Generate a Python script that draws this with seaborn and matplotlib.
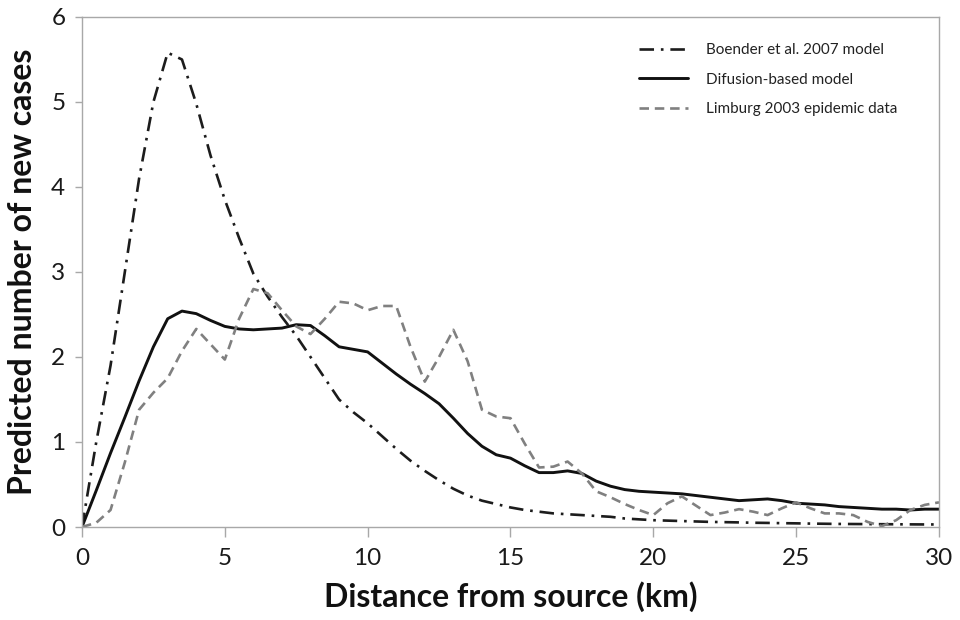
import numpy as np
import pandas as pd
import matplotlib
matplotlib.use("Agg")
import matplotlib.pyplot as plt
import seaborn as sns

# ---- data ----
distance_km = [0, 0.5, 1, 1.5, 2, 2.5, 3, 3.5, 4, 4.5, 5, 5.5, 6, 6.5, 7, 7.5, 8, 8.5, 9, 9.5,
               10, 10.5, 11, 11.5, 12, 12.5, 13, 13.5, 14, 14.5, 15, 15.5, 16, 16.5, 17, 17.5,
               18, 18.5, 19, 19.5, 20, 20.5, 21, 21.5, 22, 22.5, 23, 23.5, 24, 24.5, 25, 25.5,
               26, 26.5, 27, 27.5, 28, 28.5, 29, 29.5, 30]

boender_2007 = [0, 1.0, 1.9, 3.0, 4.1, 5.0, 5.58, 5.5, 4.98, 4.37, 3.85, 3.4, 2.98, 2.71, 2.47,
                2.25, 2.0, 1.75, 1.5, 1.35, 1.22, 1.07, 0.92, 0.78, 0.66, 0.55, 0.45, 0.37, 0.31,
                0.27, 0.23, 0.2, 0.18, 0.16, 0.15, 0.14, 0.13, 0.12, 0.1, 0.09, 0.08, 0.075, 0.07,
                0.065, 0.06, 0.057, 0.054, 0.05, 0.048, 0.045, 0.043, 0.04, 0.038, 0.036, 0.035,
                0.034, 0.033, 0.032, 0.031, 0.03, 0.03]

diffusion_model = [0, 0.43, 0.87, 1.29, 1.72, 2.12, 2.45, 2.54, 2.51, 2.43, 2.36, 2.33, 2.32,
                   2.33, 2.34, 2.38, 2.37, 2.25, 2.12, 2.09, 2.06, 1.93, 1.80, 1.68, 1.57, 1.45,
                   1.28, 1.1, 0.95, 0.85, 0.81, 0.72, 0.64, 0.64, 0.66, 0.63, 0.54, 0.48, 0.44,
                   0.42, 0.41, 0.40, 0.39, 0.37, 0.35, 0.33, 0.31, 0.32, 0.33, 0.31, 0.28, 0.27,
                   0.26, 0.24, 0.23, 0.22, 0.21, 0.21, 0.20, 0.21, 0.21]

limburg_2003 = [0, 0.05, 0.2, 0.76, 1.38, 1.58, 1.75, 2.07, 2.33, 2.15, 1.97, 2.45, 2.8, 2.75,
                2.55, 2.36, 2.27, 2.45, 2.65, 2.63, 2.55, 2.6, 2.6, 2.12, 1.71, 2.0, 2.32, 1.95,
                1.38, 1.3, 1.28, 0.98, 0.7, 0.71, 0.77, 0.63, 0.42, 0.35, 0.27, 0.2, 0.14, 0.28,
                0.36, 0.25, 0.14, 0.17, 0.21, 0.18, 0.14, 0.22, 0.29, 0.22, 0.16, 0.16, 0.14,
                0.06, 0.01, 0.08, 0.2, 0.26, 0.29]

series_labels = ["Boender et al. 2007 model", "Difusion-based model", "Limburg 2003 epidemic data"]
x_ticks = [0, 5, 10, 15, 20, 25, 30]
y_ticks = [0, 1, 2, 3, 4, 5, 6]
x_label = "Distance from source (km)"
y_label = "Predicted number of new cases"

# ---- styling ----
sns.set_style("white")
plt.rcParams["font.family"] = ["Lato", "DejaVu Sans"]

fig = plt.figure(figsize=(9.6, 6.2), dpi=100)
ax = fig.add_axes([0.0854, 0.15, 0.8927, 0.8226])

styles = [
    dict(color="#1c1c1c", linestyle=(0, (5.5, 2.6, 1.0, 2.6)), linewidth=1.9),
    dict(color="#111111", linestyle="-", linewidth=2.1),
    dict(color="#808080", linestyle=(0, (3.6, 2.2)), linewidth=1.9),
]
for vals, lab, st in zip([boender_2007, diffusion_model, limburg_2003], series_labels, styles):
    df = pd.DataFrame({"x": distance_km, "y": vals})
    sns.lineplot(data=df, x="x", y="y", ax=ax, label=lab, **st)

ax.set_xlim(0, 30)
ax.set_ylim(0, 6)
ax.set_xticks(x_ticks)
ax.set_yticks(y_ticks)
ax.set_xticklabels([str(t) for t in x_ticks])
ax.set_yticklabels([str(t) for t in y_ticks])

for sp in ax.spines.values():
    sp.set_visible(True)
    sp.set_color("#a8a8a8")
    sp.set_linewidth(1.0)

ax.tick_params(axis="x", direction="out", length=7, width=1, color="#a8a8a8",
               labelsize=17.5, labelcolor="#1a1a1a", pad=8, bottom=True)
ax.tick_params(axis="y", direction="out", length=5, width=1, color="#a8a8a8",
               labelsize=17.5, labelcolor="#1a1a1a", pad=7, left=True)

ax.set_xlabel(x_label, fontsize=23, fontweight="bold", color="#111111", labelpad=9)
ax.set_ylabel(y_label, fontsize=23, fontweight="bold", color="#111111", labelpad=10)

leg = ax.legend(loc="upper right", frameon=False, fontsize=11, handlelength=3.2,
                handletextpad=1.2, labelspacing=1.0, bbox_to_anchor=(0.968, 0.975))
for t in leg.get_texts():
    t.set_color("#222222")

fig.savefig("out.png", dpi=100)
